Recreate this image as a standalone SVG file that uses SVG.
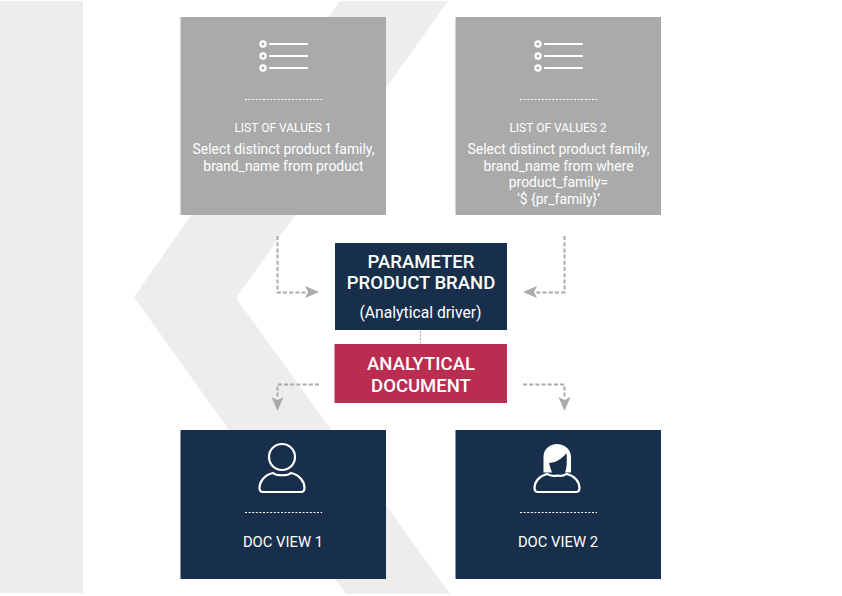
<svg xmlns="http://www.w3.org/2000/svg" width="842" height="596" viewBox="0 0 842 596">
<style>
text{font-family:Roboto,"Liberation Sans",sans-serif;fill:#fff;text-anchor:middle}
.cap{font-size:12px}
.body{font-size:13.900px}
.head{font-size:18.500px;font-weight:500}
.gray{fill:#aaa}
.navy{fill:#172f4a}
.dots{stroke:#fff;stroke-width:1;stroke-dasharray:2 1.6;fill:none}
.ic{stroke:#fff;fill:none;stroke-width:2.2;stroke-linecap:round}
.ln{stroke:#aaa;stroke-width:2;stroke-dasharray:4 2.2;fill:none}
.ah{fill:#aaa}
</style>
<rect width="842" height="596" fill="#fff"/>
<g id="background" fill="#eeedeb">
<rect x="0" y="1" width="83" height="592"/>
<polygon points="340,1 448,1 236,298 450,594 346,594 134,297"/>
</g>
<g id="connectors">
<path class="ln" d="M277.500 236V292.500H306"/>
<polygon class="ah" points="319,292 305,286 308,292 305,298"/>
<path class="ln" d="M564.500 236V292.500H536"/>
<polygon class="ah" points="523,292 537,286 534,292 537,298"/>
<path class="ln" style="stroke-width:1;stroke-dasharray:2 1.500" d="M420.500 331V344"/>
<path class="ln" d="M319 384.500H277.500V398"/>
<polygon class="ah" points="277.500,411 271.500,397 277.500,400 283.500,397"/>
<path class="ln" d="M523 384.500H564.500V398"/>
<polygon class="ah" points="564.500,411 558.500,397 564.500,400 570.500,397"/>
</g>
<g id="list1">
<rect class="gray" x="180.500" y="17" width="205.500" height="198"/>
<g class="ic">
<circle cx="263" cy="44" r="2.600"/><circle cx="263" cy="56" r="2.600"/><circle cx="263" cy="68" r="2.600"/>
<path d="M270 44H307M270 56H307M270 68H307"/>
</g>
<path class="dots" d="M245 99.500H322"/>
<text class="cap" x="283" y="132">LIST OF VALUES 1</text>
<text class="body" x="283.500" y="154">Select distinct product family,</text>
<text class="body" x="283.500" y="171">brand_name from product</text>
</g>
<g id="list2">
<rect class="gray" x="455.500" y="17" width="205.500" height="198"/>
<g class="ic">
<circle cx="538" cy="44" r="2.600"/><circle cx="538" cy="56" r="2.600"/><circle cx="538" cy="68" r="2.600"/>
<path d="M545 44H582M545 56H582M545 68H582"/>
</g>
<path class="dots" d="M520 99.500H597"/>
<text class="cap" x="558" y="132">LIST OF VALUES 2</text>
<text class="body" x="558.500" y="154">Select distinct product family,</text>
<text class="body" x="558.500" y="171">brand_name from where</text>
<text class="body" x="558.500" y="187">product_family=</text>
<text class="body" x="558.500" y="204">‘$ {pr_family}’</text>
</g>
<g id="parameter">
<rect class="navy" x="335" y="243" width="172" height="87"/>
<text class="head" x="421" y="268">PARAMETER</text>
<text class="head" x="421" y="289">PRODUCT BRAND</text>
<text x="420.500" y="318" font-size="15.700">(Analytical driver)</text>
</g>
<g id="document">
<rect fill="#bb2d50" x="334.500" y="344" width="172.500" height="59"/>
<text class="head" x="421" y="370">ANALYTICAL</text>
<text class="head" x="421" y="392">DOCUMENT</text>
</g>
<g id="view1">
<rect class="navy" x="180.500" y="430" width="205.500" height="149"/>
<g class="ic">
<circle cx="282" cy="457" r="13"/>
<path d="M273 473C264 475 259.500 482 259.500 488C259.500 491 260.500 492 263 492H301C303.500 492 304.500 491 304.500 488C304.500 482 300 475 291 473C288 476 276 476 273 473Z"/>
</g>
<path class="dots" d="M245 512.500H322"/>
<text x="283" y="547" font-size="14.800">DOC VIEW 1</text>
</g>
<g id="view2">
<rect class="navy" x="455.500" y="430" width="205.500" height="149"/>
<path fill="#fff" d="M543.500 472.500V457C543.500 449 550 444 557 444C564 444 571 449 571 457V472.500H565C567 468 567 460 566.500 453C562 459 555 463 549 463C550 467 551 470 552 472.500Z"/>
<path class="ic" d="M547 474C539 476 534.500 482 534.500 488C534.500 491 535.500 492 538 492H576C578.500 492 579.500 491 579.500 488C579.500 482 575 476 567 474C564 475 562 477 557.500 475.500C553 477 550 475 547 474Z"/>
<path class="dots" d="M520 512.500H597"/>
<text x="558" y="547" font-size="14.800">DOC VIEW 2</text>
</g>
</svg>
